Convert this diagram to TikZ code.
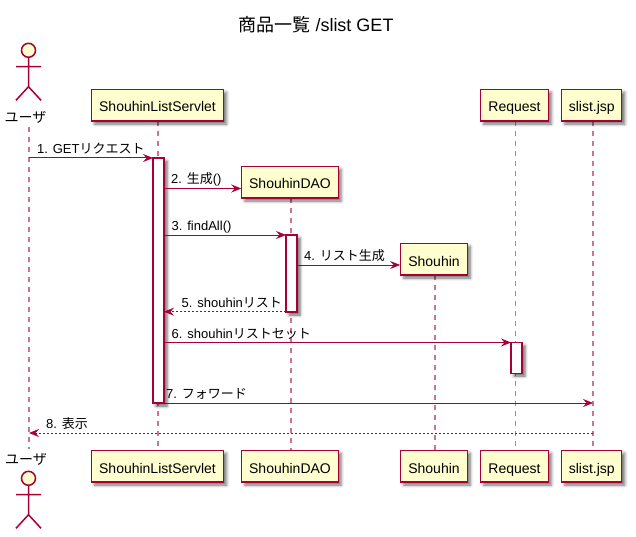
\documentclass[tikz,border=0pt]{standalone}
\usepackage{fontspec}
\setmainfont{Liberation Sans}
\newfontfamily\jp{Noto Sans CJK JP}
\usetikzlibrary{arrows.meta,shadows,shadows.blur}
\definecolor{pu}{HTML}{A80036}
\definecolor{pubg}{HTML}{FEFECE}
\begin{document}
\begin{tikzpicture}[x=1pt,y=-1pt,
  part/.style={draw=pu, fill=pubg, line width=1.2pt, minimum height=31.7pt, inner sep=0pt,
    text height=13.6pt, text depth=0pt,
    font=\fontsize{14}{16}\selectfont,
    blur shadow={shadow xshift=3pt, shadow yshift=-3pt, shadow blur radius=3pt, shadow opacity=55}},
  actbox/.style={draw=pu, fill=white, line width=1.1pt, inner sep=0pt, minimum width=11pt,
    blur shadow={shadow xshift=3pt, shadow yshift=-3pt, shadow blur radius=3pt, shadow opacity=60}},
  lifeline/.style={draw=pu!55, line width=1.6pt, dash pattern=on 5pt off 5pt},
  msg/.style={draw=pu, line width=1pt, -{Stealth[length=10pt,width=8pt,inset=3.5pt]}},
  ret/.style={msg, dash pattern=on 2pt off 2pt},
  lbl/.style={font=\fontsize{13}{15}\selectfont, inner sep=0pt, anchor=base west},
  actorlbl/.style={font=\fontsize{14}{16}\selectfont\jp, inner sep=0pt},
  actor/.pic={
    \draw[draw=pu, line width=1.5pt, fill=pubg] (0,0) circle (7pt);
    \draw[pu, line width=1.5pt] (0,7) -- (0,36.4) (-12.5,16.4) -- (12.5,16.4)
      (-12.5,50) -- (0,36.4) -- (12.5,50);}
]
\useasboundingbox (0,0) rectangle (636,537);

% title
\node[font=\fontsize{18}{20}\selectfont, inner sep=0pt] (title) at (316,25) {{\jp 商品一覧} /slist GET};

% lifeline coordinates
\coordinate (Lu1) at (29,127);   \coordinate (Lu2) at (29,449);
\coordinate (Ls1) at (158,121);  \coordinate (Ls2) at (158,450);
\coordinate (Ld1) at (291,198);  \coordinate (Ld2) at (291,450);
\coordinate (Lh1) at (435,275);  \coordinate (Lh2) at (435,450);
\coordinate (Lr1) at (515.5,121);\coordinate (Lr2) at (515.5,450);
\coordinate (Lj1) at (593,121);  \coordinate (Lj2) at (593,450);
\draw[lifeline] (Lu1) -- (Lu2);
\draw[lifeline] (Ls1) -- (Ls2);
\draw[lifeline] (Ld1) -- (Ld2);
\draw[lifeline] (Lh1) -- (Lh2);
\draw[lifeline] (Lr1) -- (Lr2);
\draw[lifeline] (Lj1) -- (Lj2);

% actors
\pic (utop) at (28.5,50.3) {actor};
\node[actorlbl] (ulbl1) at (25.5,117) {ユーザ};
\node[actorlbl] (ulbl2) at (26,459) {ユーザ};
\pic (ubot) at (28.5,478.3) {actor};

% participants top
\node[part, minimum width=132pt] (srv1) at (157.5,105.2) {ShouhinListServlet};
\node[part, minimum width=96.3pt] (dao1) at (290,182.2) {ShouhinDAO};
\node[part, minimum width=66.5pt] (sh1) at (434,259.2) {Shouhin};
\node[part, minimum width=67.7pt] (req1) at (514.5,105.2) {Request};
\node[part, minimum width=60pt] (jsp1) at (591.8,105.2) {slist.jsp};
% participants bottom
\node[part, minimum width=132pt] (srv2) at (157.5,466.2) {ShouhinListServlet};
\node[part, minimum width=96.3pt] (dao2) at (290,466.2) {ShouhinDAO};
\node[part, minimum width=66.5pt] (sh2) at (434,466.2) {Shouhin};
\node[part, minimum width=67.7pt] (req2) at (514.5,466.2) {Request};
\node[part, minimum width=60pt] (jsp2) at (591.8,466.2) {slist.jsp};

% activations
\node[actbox, minimum height=245pt] (a1) at (158.5,280.5) {};
\node[actbox, minimum height=77pt] (a2) at (291.5,273.5) {};
\node[actbox, minimum height=30.5pt] (a3) at (516.5,357.8) {};

% message endpoints
\coordinate (m1a) at (29,158);     \coordinate (m1b) at (153,158);
\coordinate (m2a) at (164,188.5);  \coordinate (m2b) at (dao1.west |- m2a);
\coordinate (m3a) at (164,235);    \coordinate (m3b) at (286,235);
\coordinate (m4a) at (297,265);    \coordinate (m4b) at (sh1.west |- m4a);
\coordinate (m5a) at (286,311.7);  \coordinate (m5b) at (164,311.7);
\coordinate (m6a) at (164,342.5);  \coordinate (m6b) at (511,342.5);
\coordinate (m7a) at (164,403);    \coordinate (m7b) at (593,403);
\coordinate (m8a) at (593,433);    \coordinate (m8b) at (29,433);

\draw[msg] (m1a) -- (m1b);
\draw[msg] (m2a) -- (m2b);
\draw[msg] (m3a) -- (m3b);
\draw[msg] (m4a) -- (m4b);
\draw[ret] (m5a) -- (m5b);
\draw[msg] (m6a) -- (m6b);
\draw[msg] (m7a) -- (m7b);
\draw[ret] (m8a) -- (m8b);

\node[lbl] (t1) at (37,153.5) {1. GET{\jp リクエスト}};
\node[lbl] (t2) at (171,184) {2. {\jp 生成}()};
\node[lbl] (t3) at (171.5,230.5) {3. findAll()};
\node[lbl] (t4) at (304,260.5) {4. {\jp リスト生成}};
\node[lbl] (t5) at (181.5,307.2) {5. shouhin{\jp リスト}};
\node[lbl] (t6) at (171.5,338) {6. shouhin{\jp リストセット}};
\node[lbl] (t7) at (166,398.5) {7. {\jp フォワード}};
\node[lbl] (t8) at (46,428.5) {8. {\jp 表示}};
\end{tikzpicture}
\end{document}
